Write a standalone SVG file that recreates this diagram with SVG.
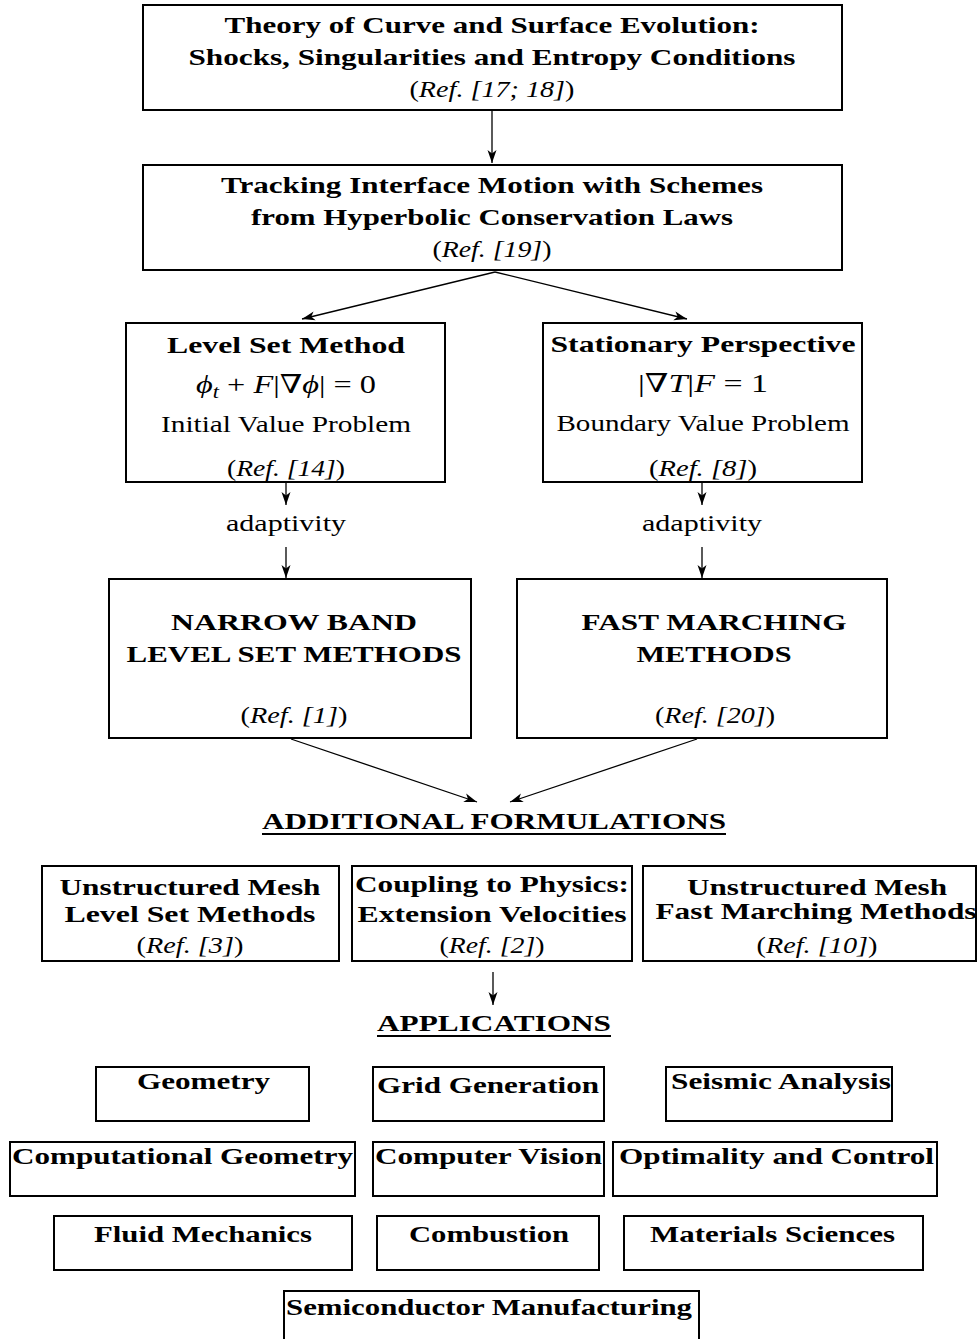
<svg xmlns="http://www.w3.org/2000/svg" width="979" height="1339" viewBox="0 0 979 1339">
<style>
text{font-family:"Liberation Serif","DejaVu Serif",serif;fill:#000;text-anchor:middle}
.b{font-weight:bold;font-size:24px}
.r{font-size:23px;font-weight:normal}
.m{font-size:26px;font-weight:normal}
.i{font-style:italic}
.box{fill:#fff;stroke:#000;stroke-width:2}
.ln{stroke:#000;stroke-width:1.3;fill:none;marker-end:url(#ah)}
.ul{stroke:#000;stroke-width:2}
</style>
<defs>
<marker id="ah" markerUnits="userSpaceOnUse" markerWidth="14" markerHeight="10" refX="13" refY="5" orient="auto"><path d="M0,0.5 L13,5 L0,9.5 L3.5,5 z" fill="#000"/></marker>
</defs>
<rect width="979" height="1339" fill="#fff"/>

<g id="connectors">
<line class="ln" x1="492" y1="111" x2="492" y2="163"/>
<line class="ln" x1="495" y1="272" x2="302" y2="319"/>
<line class="ln" x1="495" y1="272" x2="687" y2="319"/>
<line class="ln" x1="286" y1="483" x2="286" y2="505"/>
<line class="ln" x1="286" y1="547" x2="286" y2="578"/>
<line class="ln" x1="702" y1="483" x2="702" y2="505"/>
<line class="ln" x1="702" y1="547" x2="702" y2="578"/>
<line class="ln" x1="291" y1="739" x2="477" y2="802"/>
<line class="ln" x1="697" y1="739" x2="510" y2="802"/>
<line class="ln" x1="493" y1="972" x2="493" y2="1005"/>
</g>

<g id="theory">
<rect class="box" x="143" y="5" width="699" height="105"/>
<text class="b" x="492" y="33" textLength="535" lengthAdjust="spacingAndGlyphs">Theory of Curve and Surface Evolution:</text>
<text class="b" x="492" y="65" textLength="607" lengthAdjust="spacingAndGlyphs">Shocks, Singularities and Entropy Conditions</text>
<text class="r" x="492" y="97" textLength="165" lengthAdjust="spacingAndGlyphs">(<tspan class="i">Ref. [17; 18]</tspan>)</text>
</g>

<g id="tracking">
<rect class="box" x="143" y="165" width="699" height="105"/>
<text class="b" x="492" y="193" textLength="542" lengthAdjust="spacingAndGlyphs">Tracking Interface Motion with Schemes</text>
<text class="b" x="492" y="225" textLength="482" lengthAdjust="spacingAndGlyphs">from Hyperbolic Conservation Laws</text>
<text class="r" x="492" y="257" textLength="119" lengthAdjust="spacingAndGlyphs">(<tspan class="i">Ref. [19]</tspan>)</text>
</g>

<g id="levelset">
<rect class="box" x="126" y="323" width="319" height="159"/>
<text class="b" x="286" y="353" textLength="238" lengthAdjust="spacingAndGlyphs">Level Set Method</text>
<text class="m" x="286" y="393" textLength="180" lengthAdjust="spacingAndGlyphs"><tspan class="i">ϕ</tspan><tspan class="i" font-size="18" dy="5">t</tspan><tspan dy="-5"> + </tspan><tspan class="i">F</tspan>|∇<tspan class="i">ϕ</tspan>| = 0</text>
<text class="r" x="286" y="432" textLength="250" lengthAdjust="spacingAndGlyphs">Initial Value Problem</text>
<text class="r" x="286" y="476" textLength="118" lengthAdjust="spacingAndGlyphs">(<tspan class="i">Ref. [14]</tspan>)</text>
</g>

<g id="stationary">
<rect class="box" x="543" y="323" width="319" height="159"/>
<text class="b" x="703" y="352" textLength="305" lengthAdjust="spacingAndGlyphs">Stationary Perspective</text>
<text class="m" x="703" y="392" textLength="130" lengthAdjust="spacingAndGlyphs">|∇<tspan class="i">T</tspan>|<tspan class="i">F</tspan> = 1</text>
<text class="r" x="703" y="431" textLength="293" lengthAdjust="spacingAndGlyphs">Boundary Value Problem</text>
<text class="r" x="703" y="476" textLength="108" lengthAdjust="spacingAndGlyphs">(<tspan class="i">Ref. [8]</tspan>)</text>
</g>

<g id="adapt-left"><text class="r" x="286" y="531" textLength="120" lengthAdjust="spacingAndGlyphs">adaptivity</text></g>
<g id="adapt-right"><text class="r" x="702" y="531" textLength="120" lengthAdjust="spacingAndGlyphs">adaptivity</text></g>

<g id="narrowband">
<rect class="box" x="109" y="579" width="362" height="159"/>
<text class="b" x="294" y="630" textLength="246" lengthAdjust="spacingAndGlyphs">NARROW BAND</text>
<text class="b" x="294" y="662" textLength="335" lengthAdjust="spacingAndGlyphs">LEVEL SET METHODS</text>
<text class="r" x="294" y="723" textLength="107" lengthAdjust="spacingAndGlyphs">(<tspan class="i">Ref. [1]</tspan>)</text>
</g>

<g id="fastmarching">
<rect class="box" x="517" y="579" width="370" height="159"/>
<text class="b" x="714" y="630" textLength="265" lengthAdjust="spacingAndGlyphs">FAST MARCHING</text>
<text class="b" x="714" y="662" textLength="155" lengthAdjust="spacingAndGlyphs">METHODS</text>
<text class="r" x="715" y="723" textLength="120" lengthAdjust="spacingAndGlyphs">(<tspan class="i">Ref. [20]</tspan>)</text>
</g>

<g id="additional">
<text class="b" x="494" y="829" textLength="464" lengthAdjust="spacingAndGlyphs">ADDITIONAL FORMULATIONS</text>
<line class="ul" x1="262" y1="834" x2="726" y2="834"/>
</g>

<g id="unstructured-ls">
<rect class="box" x="42" y="866" width="297" height="95"/>
<text class="b" x="190" y="895" textLength="261" lengthAdjust="spacingAndGlyphs">Unstructured Mesh</text>
<text class="b" x="190" y="922" textLength="251" lengthAdjust="spacingAndGlyphs">Level Set Methods</text>
<text class="r" x="190" y="953" textLength="107" lengthAdjust="spacingAndGlyphs">(<tspan class="i">Ref. [3]</tspan>)</text>
</g>

<g id="coupling">
<rect class="box" x="352" y="866" width="280" height="95"/>
<text class="b" x="492" y="892" textLength="274" lengthAdjust="spacingAndGlyphs">Coupling to Physics:</text>
<text class="b" x="492" y="922" textLength="269" lengthAdjust="spacingAndGlyphs">Extension Velocities</text>
<text class="r" x="492" y="953" textLength="105" lengthAdjust="spacingAndGlyphs">(<tspan class="i">Ref. [2]</tspan>)</text>
</g>

<g id="unstructured-fm">
<rect class="box" x="643" y="866" width="333" height="95"/>
<text class="b" x="817" y="895" textLength="260" lengthAdjust="spacingAndGlyphs">Unstructured Mesh</text>
<text class="b" x="816" y="919" textLength="321" lengthAdjust="spacingAndGlyphs">Fast Marching Methods</text>
<text class="r" x="817" y="953" textLength="121" lengthAdjust="spacingAndGlyphs">(<tspan class="i">Ref. [10]</tspan>)</text>
</g>

<g id="applications">
<text class="b" x="494" y="1031" textLength="234" lengthAdjust="spacingAndGlyphs">APPLICATIONS</text>
<line class="ul" x1="377" y1="1036" x2="611" y2="1036"/>
</g>

<g id="app-geometry">
<rect class="box" x="96" y="1067" width="213" height="54"/>
<text class="b" x="203.5" y="1089" textLength="133" lengthAdjust="spacingAndGlyphs">Geometry</text>
</g>
<g id="app-grid">
<rect class="box" x="373" y="1067" width="231" height="54"/>
<text class="b" x="488" y="1093" textLength="222" lengthAdjust="spacingAndGlyphs">Grid Generation</text>
</g>
<g id="app-seismic">
<rect class="box" x="666" y="1067" width="226" height="54"/>
<text class="b" x="781" y="1089" textLength="220" lengthAdjust="spacingAndGlyphs">Seismic Analysis</text>
</g>

<g id="app-compgeom">
<rect class="box" x="10" y="1142" width="345" height="54"/>
<text class="b" x="182.5" y="1164" textLength="341" lengthAdjust="spacingAndGlyphs">Computational Geometry</text>
</g>
<g id="app-vision">
<rect class="box" x="373" y="1142" width="231" height="54"/>
<text class="b" x="488.5" y="1164" textLength="227" lengthAdjust="spacingAndGlyphs">Computer Vision</text>
</g>
<g id="app-optimality">
<rect class="box" x="613" y="1142" width="324" height="54"/>
<text class="b" x="776.5" y="1164" textLength="315" lengthAdjust="spacingAndGlyphs">Optimality and Control</text>
</g>

<g id="app-fluid">
<rect class="box" x="54" y="1216" width="298" height="54"/>
<text class="b" x="203" y="1242" textLength="218" lengthAdjust="spacingAndGlyphs">Fluid Mechanics</text>
</g>
<g id="app-combustion">
<rect class="box" x="377" y="1216" width="222" height="54"/>
<text class="b" x="489" y="1242" textLength="160" lengthAdjust="spacingAndGlyphs">Combustion</text>
</g>
<g id="app-materials">
<rect class="box" x="624" y="1216" width="299" height="54"/>
<text class="b" x="772.5" y="1242" textLength="245" lengthAdjust="spacingAndGlyphs">Materials Sciences</text>
</g>

<g id="app-semiconductor">
<rect class="box" x="284" y="1291" width="415" height="70"/>
<text class="b" x="489" y="1315" textLength="406" lengthAdjust="spacingAndGlyphs">Semiconductor Manufacturing</text>
</g>
</svg>
